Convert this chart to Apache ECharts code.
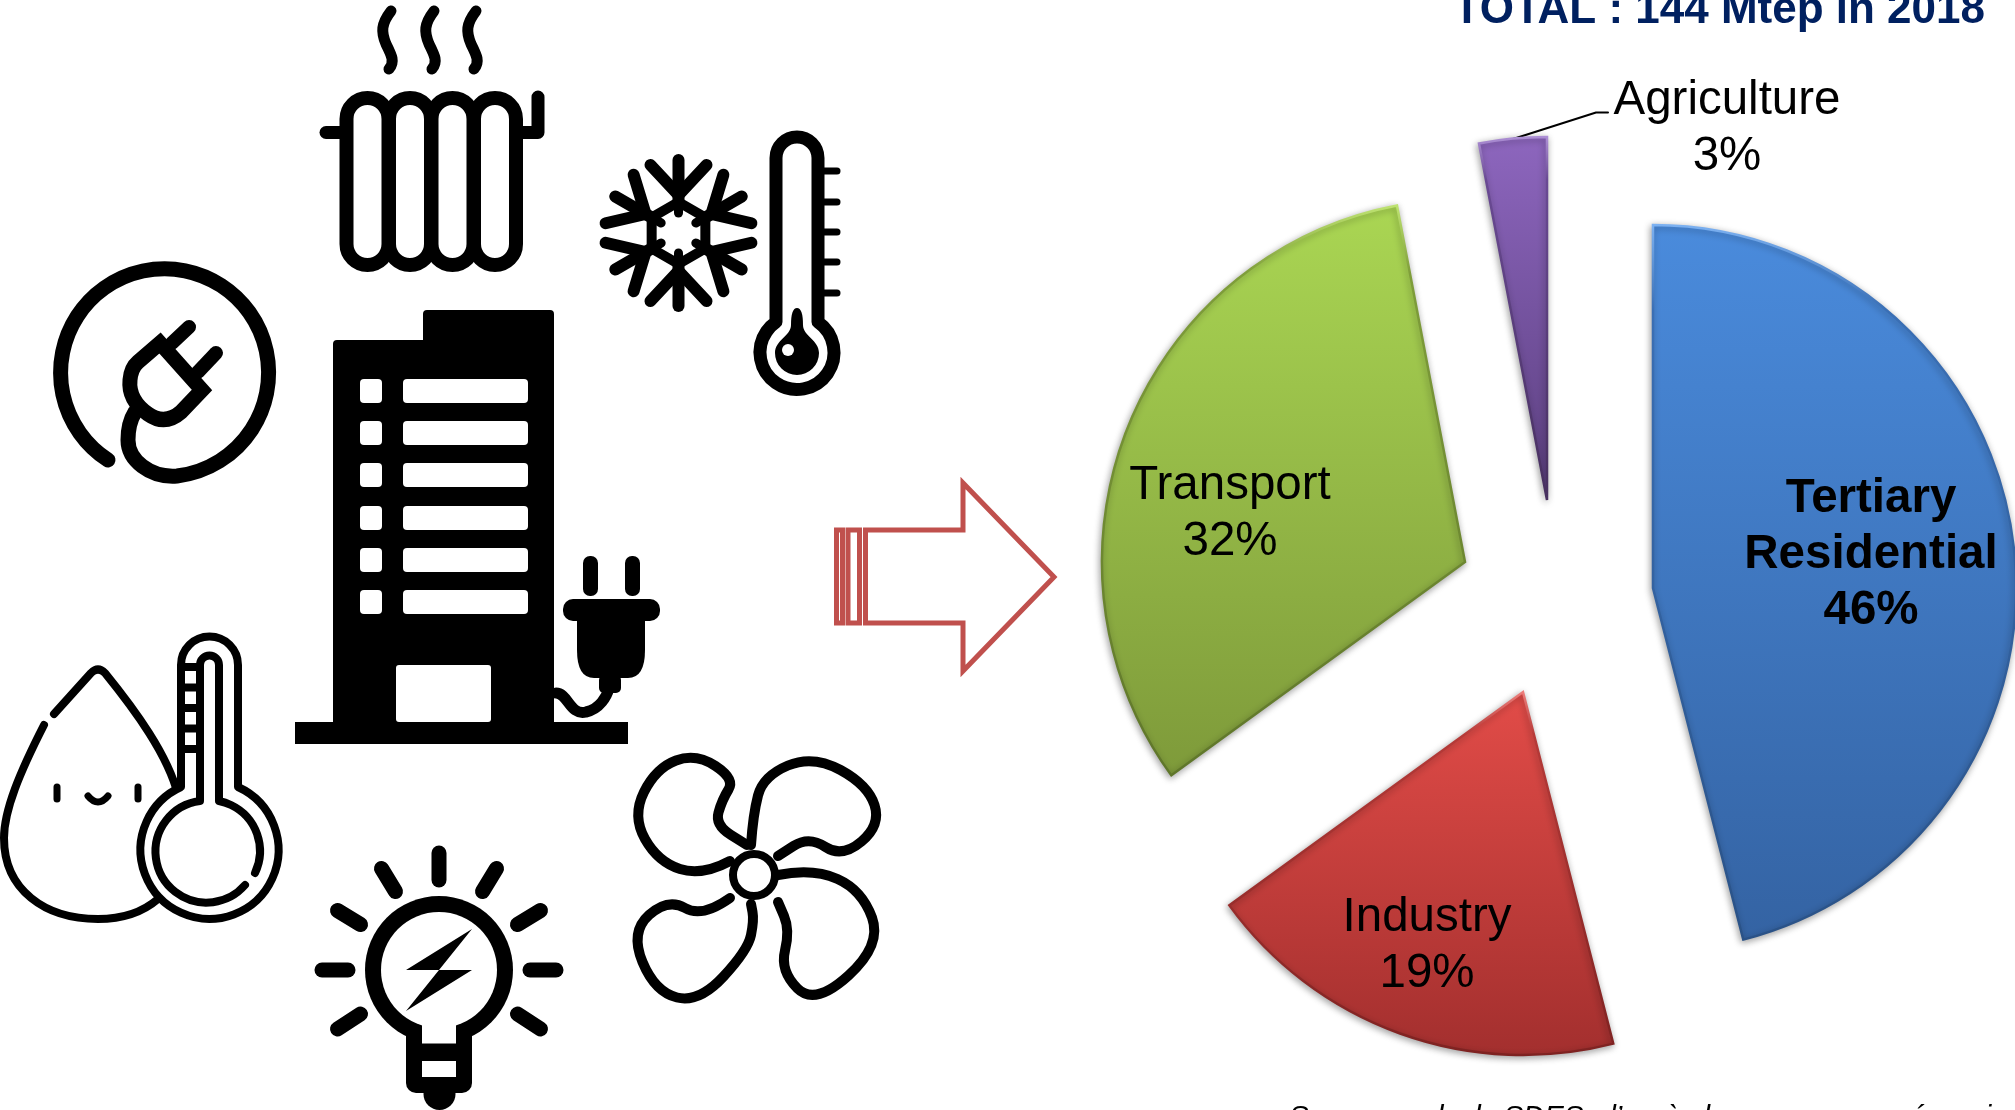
<!DOCTYPE html>
<html>
<head>
<meta charset="utf-8">
<style>
  html, body { margin: 0; padding: 0; background: #fff; overflow: hidden; }
  #main { width: 2015px; height: 1110px; }
</style>
<script src="https://cdn.jsdelivr.net/npm/echarts@6/dist/echarts.min.js"></script>
</head>
<body>
<div id="main"></div>
<script>
const sliceNames = ["Tertiary\nResidential", "Industry", "Transport", "Agriculture"];
const sliceValues = [46, 19, 32, 3];

const titleText = "TOTAL : 144 Mtep in 2018";
const sourceText = "Source : calculs SDES, d’après les sources par énergie";

// each slice is pulled out of the pie on its own, so each gets its own centre
const sliceCenters = [[1653, 588], [1523, 692], [1465, 562], [1547, 500]];
const labelSpots = [[1871, 555], [1427, 946], [1230, 514], [1727, 129]];
const labelWeights = ["bold", "normal", "normal", "normal"];
const fillStops = [
  ["#4A8BDC", "#3463A3"],
  ["#E24C48", "#A32F2E"],
  ["#AAD653", "#7E9A3A"],
  ["#8D66BE", "#5B3F7F"],
];
const edgeStops = [
  ["#7DB2F2", "#3A6FB5", "#2A5287"],
  ["#EE7F7C", "#B63A38", "#7E2221"],
  ["#BFE472", "#7F9E3A", "#5F762A"],
  ["#AE90D6", "#6A4A94", "#47305F"],
];

const chart = echarts.init(document.getElementById("main"));

const vGradient = (stops) =>
  new echarts.graphic.LinearGradient(
    0, 0, 0, 1,
    stops.map((color, i) => {
      if (stops.length === 3) {
        return { offset: [0, 0.12, 1][i], color };
      }
      return { offset: i, color };
    })
  );

const pieSeries = sliceCenters.map((center, own) => ({
  type: "pie",
  silent: true,
  animation: false,
  center: center,
  radius: [0, 363],
  startAngle: 90,
  clockwise: true,
  avoidLabelOverlap: false,
  z: 3,
  label: {
    show: true,
    position: "inside",
    formatter: "{b}\n{d}%",
    fontFamily: "Liberation Sans",
    fontSize: 47.5,
    lineHeight: 56,
    color: "#000",
    fontWeight: labelWeights[own],
    align: "center",
  },
  labelLine: { show: false },
  labelLayout: {
    x: labelSpots[own][0],
    y: labelSpots[own][1],
    align: "center",
    verticalAlign: "middle",
  },
  data: sliceValues.map((value, i) =>
    i === own
      ? {
          name: sliceNames[i],
          value: value,
          itemStyle: {
            color: vGradient(fillStops[i]),
            borderColor: vGradient(edgeStops[i]),
            borderWidth: 2.5,
            borderJoin: "miter",
            shadowBlur: 7,
            shadowOffsetX: -1,
            shadowOffsetY: 2,
            shadowColor: "rgba(0,0,0,0.35)",
          },
        }
      : {
          name: sliceNames[i],
          value: value,
          itemStyle: { color: "transparent", borderWidth: 0, shadowBlur: 0 },
          label: { show: false },
          labelLine: { show: false },
        }
  ),
}));

// icons and arrow, plain drawing only
const line = (d, w, color, join) => ({
  type: "path",
  shape: { pathData: d },
  style: { fill: "none", stroke: color || "#000", lineWidth: w, lineCap: "round", lineJoin: join || "round" },
});
const solid = (d, color) => ({
  type: "path",
  shape: { pathData: d },
  style: { fill: color || "#000" },
});
const box = (x, y, width, height, r, color) => ({
  type: "rect",
  shape: { x, y, width, height, r },
  style: { fill: color || "#fff" },
});
const disc = (cx, cy, r, color) => ({
  type: "circle",
  shape: { cx, cy, r },
  style: { fill: color || "#000" },
});
const smooth = (pts) => {
  let d = `M ${pts[0][0]} ${pts[0][1]}`;
  for (let i = 1; i < pts.length - 1; i++) {
    const mx = (pts[i][0] + pts[i + 1][0]) / 2;
    const my = (pts[i][1] + pts[i + 1][1]) / 2;
    d += ` Q ${pts[i][0]} ${pts[i][1]} ${mx} ${my}`;
  }
  const last = pts[pts.length - 1];
  return d + ` L ${last[0]} ${last[1]}`;
};

const radiatorIcon = () => {
  const parts = [];
  [389, 432, 474].forEach((x) => {
    parts.push(line(`M ${x + 2} 11 C ${x - 8} 24 ${x - 8} 32 ${x - 3} 44 C ${x + 3} 56 ${x + 6} 62 ${x} 69`, 11));
  });
  [367.5, 410, 452.5, 495].forEach((c) => {
    parts.push(line(`M ${c - 21} 119 A 21 21 0 0 1 ${c + 21} 119 V 244 A 21 21 0 0 1 ${c - 21} 244 Z`, 14));
  });
  parts.push(line("M 326 132.5 H 341", 13));
  parts.push(line("M 523 132.5 H 538 V 97", 13));
  return parts;
};

const snowflakeIcon = () => {
  const cx = 678.5;
  const cy = 233;
  const at = (a, x, y) => {
    const c = Math.cos(a);
    const s = Math.sin(a);
    return `${cx + x * c - y * s} ${cy + x * s + y * c}`;
  };
  const parts = [];
  let hex = "";
  for (let k = 0; k < 6; k++) {
    const a = (k * Math.PI) / 3;
    hex += `${k ? "L" : "M"} ${at(a, 0, -31)} `;
    parts.push(line(`M ${at(a, 0, -31)} L ${at(a, 0, -73)}`, 12));
    parts.push(line(`M ${at(a, 0, -38)} L ${at(a, 28, -68)}`, 12));
    parts.push(line(`M ${at(a, 0, -38)} L ${at(a, -28, -68)}`, 12));
    parts.push(line(`M ${at(a, 0, -31)} L ${at(a, 0, -20)}`, 9));
  }
  parts.push(line(hex + "Z", 10));
  return parts;
};

const thermometerIcon = () => {
  const parts = [];
  [171, 202, 232, 262, 293].forEach((y) => parts.push(line(`M 824 ${y} H 837`, 7)));
  parts.push(line("M 776 322 V 158 A 21 21 0 0 1 818 158 V 322 A 37 37 0 1 1 776 322 Z", 13));
  parts.push(solid("M 797 308 Q 803 308 803 325 C 803 336 819 340 819 353 A 22 22 0 0 1 775 353 C 775 340 791 336 791 325 Q 791 308 797 308 Z"));
  parts.push(disc(788, 350, 6, "#fff"));
  return parts;
};

const plugRingIcon = () => [
  line("M 108 460 A 104 104 0 1 1 177 476 C 150 478 128 460 128 440 C 128 428 130 420 135 412", 15),
  line("M 160 343 L 202 390 L 181 412 Q 165 426 148 414 Q 128 400 130 380 Q 131 368 138 362 Z", 15, "#000", "miter"),
  line("M 172 343 L 189 327", 14),
  line("M 198 372 L 216 353", 14),
];

const buildingIcon = () => {
  const parts = [
    solid("M 333 344 Q 333 340 337 340 H 423 V 314 Q 423 310 427 310 H 550 Q 554 310 554 314 V 722 H 628 V 744 H 295 V 722 H 333 Z"),
    box(396, 665, 95, 57, 3),
  ];
  [379, 421, 463, 506, 548, 590].forEach((y) => {
    parts.push(box(360, y, 22, 24, 4));
    parts.push(box(403, y, 125, 24, 4));
  });
  // plug on its side
  parts.push(box(583, 556, 15, 40, 7, "#000"));
  parts.push(box(625, 556, 15, 40, 7, "#000"));
  parts.push(box(563, 599, 97, 22, 10, "#000"));
  parts.push(solid("M 577 615 H 645 V 650 Q 645 678 628 678 H 594 Q 577 678 577 650 Z"));
  parts.push(box(599, 675, 22, 18, 5, "#000"));
  parts.push(line("M 556 693 C 568 693 570 716 586 712 C 600 709 607 696 609 688", 11));
  return parts;
};

const arrowIcon = () => {
  const red = "#C0504D";
  return [
    line("M 865.5 530 H 963 V 483 L 1054 577 L 963 671 V 623 H 865.5 Z", 5, red, "miter"),
    line("M 848 530 H 859.5 V 623 H 848 Z", 5, red, "miter"),
    line("M 836.5 530 H 842.5 V 623 H 836.5 Z", 5, red, "miter"),
  ];
};

const dropIcon = () => {
  const parts = [
    line("M 54 714 L 91 673 Q 98 666 105 673 C 135 710 168 755 178 795", 8),
    line("M 44 725 C 20 772 4 810 4 838 C 4 890 45 919 98 919 C 122 919 143 912 158 899", 8),
    line("M 57 787 V 799", 7),
    line("M 138 787 V 799", 7),
    line("M 88 796 Q 98 808 108 796", 7),
  ];
  parts.push({
    type: "path",
    shape: { pathData: "M 181 787 V 665 A 28.5 28.5 0 0 1 238 665 V 787 A 69 69 0 1 1 181 787 Z" },
    style: { fill: "#fff", stroke: "#000", lineWidth: 8, lineJoin: "round" },
  });
  parts.push(line("M 255 873 A 51 51 0 0 0 219 801 V 665 A 9.5 9.5 0 0 0 200 665 V 801 A 51 51 0 1 0 245 885", 8));
  [667, 687.5, 708, 728.5, 749].forEach((y) => parts.push(line(`M 181 ${y} H 200`, 8)));
  return parts;
};

const bulbIcon = () => {
  const parts = [];
  [
    "M 439 853 V 880",
    "M 496.5 868.5 L 482.5 891.5",
    "M 381.5 868.5 L 395.5 891.5",
    "M 540.5 910.5 L 517.5 924.5",
    "M 337.5 910.5 L 360.5 924.5",
    "M 530 970 H 556",
    "M 322 970 H 348",
    "M 517.5 1014 L 540.5 1029",
    "M 360.5 1014 L 337.5 1029",
  ].forEach((d) => parts.push(line(d, 15)));
  parts.push(disc(439, 970, 74));
  parts.push(box(406, 1015, 66, 78, 10, "#000"));
  parts.push(disc(439.5, 1094, 16));
  parts.push(disc(439, 970, 58, "#fff"));
  parts.push(box(422, 1005, 34, 38.5, 0));
  parts.push(box(422, 1061, 34, 16, 0));
  parts.push(solid("M 472 929 L 406 970 H 439 L 406 1011 L 472 970 H 439 Z"));
  return parts;
};

const fanIcon = () => {
  const blades = [
    [[730, 861], [702, 876], [658, 862], [632, 816], [656, 768], [696, 753], [735, 779], [722, 800], [715, 825], [747, 845]],
    [[751, 845], [753, 815], [763, 776], [813, 755], [868, 785], [881, 825], [842, 858], [809, 836], [778, 856]],
    [[778, 875], [813, 868], [862, 890], [882, 945], [815, 1006], [780, 971], [790, 930], [778, 902]],
    [[730, 898], [702, 918], [668, 898], [630, 932], [655, 992], [699, 1003], [748, 950], [754, 920], [751, 904]],
  ];
  const parts = blades.map((pts) => line(smooth(pts), 10));
  parts.push({
    type: "circle",
    shape: { cx: 754, cy: 875, r: 21 },
    style: { fill: "#fff", stroke: "#000", lineWidth: 8 },
  });
  return parts;
};

const leaderLine = () => [line("M 1513 139 L 1596 112.5 H 1608", 2)];

const drawingSeries = {
  type: "custom",
  coordinateSystem: "none",
  silent: true,
  animation: false,
  z: 1,
  data: [0],
  renderItem: () => ({
    type: "group",
    children: [
      ...radiatorIcon(),
      ...snowflakeIcon(),
      ...thermometerIcon(),
      ...plugRingIcon(),
      ...buildingIcon(),
      ...arrowIcon(),
      ...dropIcon(),
      ...bulbIcon(),
      ...fanIcon(),
      ...leaderLine(),
    ],
  }),
};

chart.setOption({
  backgroundColor: "#fff",
  animation: false,
  graphic: [
    {
      type: "text",
      silent: true,
      z: 5,
      x: 1985,
      y: 33,
      style: {
        text: titleText,
        fontFamily: "Liberation Sans",
        fontSize: 44,
        fontWeight: "bold",
        fill: "#002060",
        align: "right",
        verticalAlign: "bottom",
      },
    },
    {
      type: "text",
      silent: true,
      z: 5,
      x: 1289,
      y: 1132,
      style: {
        text: sourceText,
        fontFamily: "Liberation Sans",
        fontSize: 29.25,
        fontStyle: "italic",
        fill: "#000",
        align: "left",
        verticalAlign: "bottom",
      },
    },
  ],
  series: [drawingSeries, ...pieSeries],
});
</script>
</body>
</html>
